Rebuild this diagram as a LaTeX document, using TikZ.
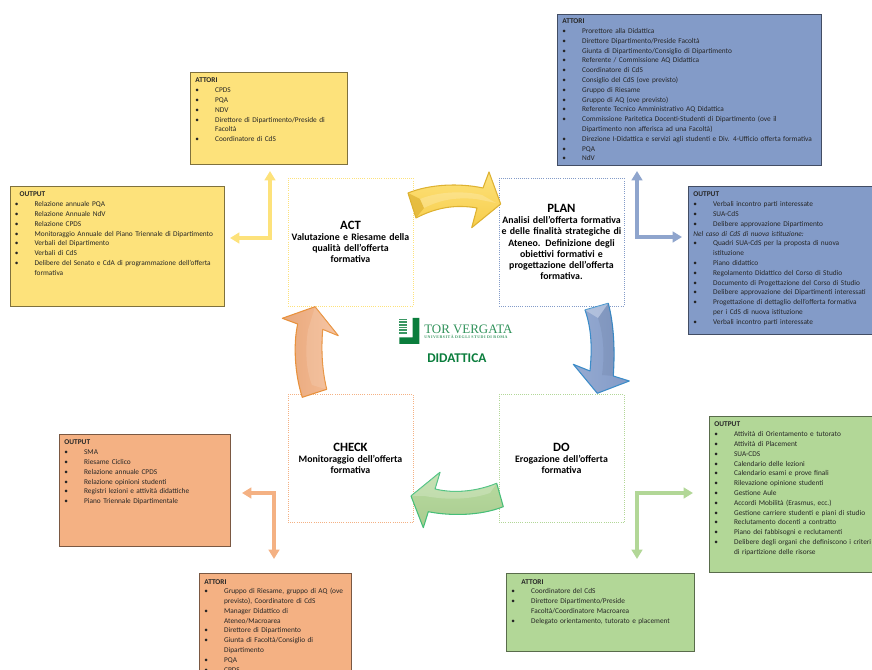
\documentclass[tikz,border=0pt]{standalone}
\usepackage{fontspec}
\setmainfont{Carlito}
\newfontfamily\logofont{Liberation Serif}
\newfontfamily\logosubfont[LetterSpace=12]{Liberation Serif}
\usetikzlibrary{arrows.meta, calc, positioning}

\definecolor{actcol}{RGB}{253,226,123}
\definecolor{plancol}{RGB}{131,155,200}
\definecolor{docol}{RGB}{178,215,151}
\definecolor{checkcol}{RGB}{244,177,131}
\definecolor{logocol}{RGB}{10,125,60}
\definecolor{actedge}{RGB}{222,178,50}
\definecolor{actdeep}{RGB}{247,205,75}
\definecolor{planedge}{RGB}{60,140,200}
\definecolor{doedge}{RGB}{70,190,120}
\definecolor{checkedge}{RGB}{232,145,60}

\newcommand{\voce}[1]{\par\hangindent=14.75pt\hangafter=1\noindent\hbox to 14.75pt{\textbullet\hfil}#1\par}

\tikzset{
    listbox/.style n args={4}{anchor=north west, inner xsep=3.75pt, inner ysep=0pt, align=left, fill=#1, draw=#1!50!black, line width=0.7pt, text=black!85, text height=7.9pt, text width=#2, text depth=#3, font=\fontsize{#4}{7.34pt}\selectfont},
    phasebox/.style={draw=#1, densely dotted, line width=0.6pt, fill=white, inner sep=0pt, minimum width=93.75pt, minimum height=96pt, text width=93pt, align=center, text=black, font=\fontsize{7.4pt}{8.4pt}\selectfont\bfseries},
    elbow/.style={draw=#1, line width=2.3pt, {Triangle[width=8pt,length=7pt]}-{Triangle[width=8pt,length=7pt]}},
    bigarrow/.style={draw=#1, line width=0.8pt, line join=round}
}

\newcommand{\fase}[1]{{\fontsize{9.5pt}{11.5pt}\selectfont #1}\\}

\begin{document}
\begin{tikzpicture}[x=0.75pt, y=-0.75pt]
    \useasboundingbox (0,0) rectangle (872,670);
    \clip (0,0) rectangle (872,670);

    \node[phasebox=actcol] (act) at (350.5,242) {\fase{ACT}Valutazione e Riesame della\\qualità dell’offerta\\formativa};
    \node[phasebox=plancol] (plan) at (561.5,242) {\fase{PLAN}Analisi dell’offerta formativa\\e delle finalità strategiche di\\Ateneo. Definizione degli\\obiettivi formativi e\\progettazione dell’offerta\\formativa.};
    \node[phasebox=docol] (do) at (561.5,458.5) {\fase{DO}Erogazione dell’offerta\\formativa};
    \node[phasebox=checkcol] (check) at (350.5,458.5) {\fase{CHECK}Monitoraggio dell’offerta\\formativa};

    \node[listbox={actcol}{110.25pt}{61.1pt}{5.5pt}] (actattori) at (190,72) {\textbf{ATTORI}
        \voce{CPDS}
        \voce{PQA}
        \voce{NDV}
        \voce{Direttore di Dipartimento/Preside di\newline Facoltà}
        \voce{Coordinatore di CdS}};
    \node[listbox={actcol}{153.4pt}{82.1pt}{5.5pt}] (actoutput) at (9.5,186) {\hspace*{3.5pt}\textbf{OUTPUT}
        \voce{Relazione annuale PQA}
        \voce{Relazione Annuale NdV}
        \voce{Relazione CPDS}
        \voce{Monitoraggio Annuale del Piano Triennale di Dipartimento}
        \voce{Verbali del Dipartimento}
        \voce{Verbali di CdS}
        \voce{Delibere del Senato e CdA di programmazione dell’offerta\newline formativa}};
    \node[listbox={plancol}{190.5pt}{106.1pt}{5.5pt}, text height=7pt] (planattori) at (557,14) {\textbf{ATTORI}
        \voce{Prorettore alla Didattica}
        \voce{Direttore Dipartimento/Preside Facoltà}
        \voce{Giunta di Dipartimento/Consiglio di Dipartimento}
        \voce{Referente / Commissione AQ Didattica}
        \voce{Coordinatore di CdS}
        \voce{Consiglio del CdS (ove previsto)}
        \voce{Gruppo di Riesame}
        \voce{Gruppo di AQ (ove previsto)}
        \voce{Referente Tecnico Amministrativo AQ Didattica}
        \voce{Commissione Paritetica Docenti-Studenti di Dipartimento (ove il\newline Dipartimento non afferisca ad una Facoltà)}
        \voce{Direzione I-Didattica e servizi agli studenti e Div. 4-Ufficio offerta formativa}
        \voce{PQA}
        \voce{NdV}};
    \node[listbox={plancol}{136.5pt}{103.1pt}{5.5pt}] (planoutput) at (688,186) {\textbf{OUTPUT}
        \voce{Verbali incontro parti interessate}
        \voce{SUA-CdS}
        \voce{Delibere approvazione Dipartimento}
        \noindent\textit{Nel caso di CdS di nuova istituzione:}
        \voce{Quadri SUA-CdS per la proposta di nuova\newline istituzione}
        \voce{Piano didattico}
        \voce{Regolamento Didattico del Corso di Studio}
        \voce{Documento di Progettazione del Corso di Studio}
        \voce{Delibere approvazione dei Dipartimenti interessati}
        \voce{Progettazione di dettaglio dell’offerta formativa\newline per i CdS di nuova istituzione}
        \voce{Verbali incontro parti interessate}};
    \node[listbox={docol}{120.75pt}{109.1pt}{5.5pt}] (dooutput) at (709,416) {\textbf{OUTPUT}
        \voce{Attività di Orientamento e tutorato}
        \voce{Attività di Placement}
        \voce{SUA-CDS}
        \voce{Calendario delle lezioni}
        \voce{Calendario esami e prove finali}
        \voce{Rilevazione opinione studenti}
        \voce{Gestione Aule}
        \voce{Accordi Mobilità (Erasmus, ecc.)}
        \voce{Gestione carriere studenti e piani di studio}
        \voce{Reclutamento docenti a contratto}
        \voce{Piano dei fabbisogni e reclutamenti}
        \voce{Delibere degli organi che definiscono i criteri\newline di ripartizione delle risorse}};
    \node[listbox={docol}{133.5pt}{50.6pt}{5.5pt}] (doattori) at (506,573) {\hspace*{7.5pt}\textbf{ATTORI}
        \voce{Coordinatore del CdS}
        \voce{Direttore Dipartimento/Preside\newline Facoltà/Coordinatore Macroarea}
        \voce{Delegato orientamento, tutorato e placement}};
    \node[listbox={checkcol}{120.75pt}{76.1pt}{5.5pt}] (checkoutput) at (59,434) {\textbf{OUTPUT}
        \voce{SMA}
        \voce{Riesame Ciclico}
        \voce{Relazione annuale CPDS}
        \voce{Relazione opinioni studenti}
        \voce{Registri lezioni e attività didattiche}
        \voce{Piano Triennale Dipartimentale}};
    \node[listbox={checkcol}{106.5pt}{72.35pt}{5.5pt}] (checkattori) at (199,573) {\textbf{ATTORI}
        \voce{Gruppo di Riesame, gruppo di AQ (ove\newline previsto), Coordinatore di CdS}
        \voce{Manager Didattico di\newline Ateneo/Macroarea}
        \voce{Direttore di Dipartimento}
        \voce{Giunta di Facoltà/Consiglio di\newline Dipartimento}
        \voce{PQA}
        \voce{CPDS}};

    \coordinate (A1) at (270,171);
    \coordinate (A2) at (230,238);
    \coordinate (P1) at (637,171);
    \coordinate (P2) at (682,237);
    \coordinate (D1) at (637,559);
    \coordinate (D2) at (693,493);
    \coordinate (C1) at (274,559);
    \coordinate (C2) at (242,493);

    \draw[elbow=actcol] (A1) |- (A2);
    \draw[elbow=plancol!90!white] (P1) |- (P2);
    \draw[elbow=docol] (D1) |- (D2);
    \draw[elbow=checkcol] (C1) |- (C2);

    \draw[bigarrow=actedge, top color=actcol, bottom color=actdeep]
        (408,193) .. controls (430,184) and (460,183) .. (483,188) -- (489,172) -- (500.7,204) -- (471.7,227.7)
        -- (477,208) .. controls (455,204) and (435,208) .. (416,218) -- cycle;
    \fill[actedge, opacity=0.7] (408,193) -- (420,199) -- (424,208) -- (416,218) -- cycle;
    \fill[white, opacity=0.2] (420,199) .. controls (440,191) and (465,191) .. (482,195) -- (496,203) -- (476,199) .. controls (455,197) and (440,200) .. (424,208) -- cycle;

    \draw[bigarrow=planedge, left color=plancol!85!white, right color=plancol]
        (608.3,303.3) -- (585,310) .. controls (592,330) and (592,350) .. (590,371) -- (573.3,364.3) -- (597.3,393.3)
        -- (629.3,381) -- (613.3,376) .. controls (615,350) and (614,325) .. (608.3,303.3) -- cycle;
    \fill[white, opacity=0.3] (608.3,303.3) -- (585,310) -- (598,318) -- cycle;
    \fill[black, opacity=0.06] (598,318) .. controls (605,340) and (604,360) .. (602,375) -- (613.3,376) .. controls (615,350) and (614,325) .. (608.3,303.3) -- cycle;

    \draw[bigarrow=doedge, top color=docol!90!white, bottom color=docol!95!black]
        (411,496) -- (440,472.3) -- (435,489) .. controls (455,494) and (478,491) .. (496.7,483.3) -- (503.3,506.7)
        .. controls (480,516) and (450,516) .. (428.3,511.7) -- (423.3,527.7) -- cycle;
    \fill[white, opacity=0.2] (411,496) -- (440,472.3) -- (435,489) .. controls (455,494) and (478,491) .. (496.7,483.3) -- (490,493) .. controls (470,500) and (445,500) .. (425,496) -- cycle;

    \draw[bigarrow=checkedge, left color=checkcol!95!black, right color=checkcol!85!white]
        (315,306.7) -- (282.3,318.3) -- (297.7,324) .. controls (293,345) and (295,375) .. (302.3,397.3) -- (326.7,389.3)
        .. controls (322,370) and (321,350) .. (322.7,329.3) -- (338.3,335.7) -- cycle;
    \fill[white, opacity=0.12] (315,306.7) -- (308,330) .. controls (305,350) and (306,370) .. (312,385) -- (326.7,389.3) .. controls (322,370) and (321,350) .. (322.7,329.3) -- (338.3,335.7) -- cycle;

    \foreach \ystripe in {319,320.6,...,334}
        \fill[logocol!80!white] (399.3,\ystripe) rectangle (406.7,\ystripe+0.9);
    \fill[logocol] (412.7,318) -- (419.3,318) -- (419.3,344) -- (399.3,344) -- (399.3,337.3) -- (412.7,337.3) -- cycle;

    \node[anchor=west, inner sep=0pt, text=logocol!85!white, font=\logofont\fontsize{9.7pt}{10pt}\selectfont] (logoname) at (424,329) {TOR VERGATA};
    \node[anchor=north west, inner sep=0pt, text=logocol!80!white, font=\logosubfont\bfseries\fontsize{3pt}{3.5pt}\selectfont] (logosub) at (424,334.5) {UNIVERSITÀ DEGLI STUDI DI ROMA};
    \node[anchor=west, inner sep=0pt, text=logocol, font=\bfseries\fontsize{10pt}{11pt}\selectfont] (didattica) at (427,358) {DIDATTICA};
\end{tikzpicture}
\end{document}
